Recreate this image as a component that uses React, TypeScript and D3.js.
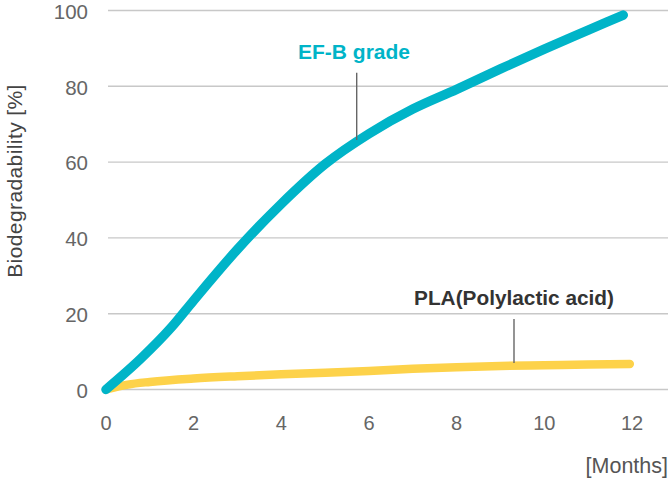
import * as d3 from 'd3';

// Months since start
const efbMonths = [0, 0.8, 1.5, 2, 3, 4, 5, 6, 7, 8, 9, 10, 11, 11.8];
const efbValues = [0, 8.2, 16.5, 23.5, 37, 49, 59.5, 67.5, 74, 79.2, 84.6, 89.8, 94.8, 98.8];

const plaMonths = [0, 0.5, 1, 2, 3, 4, 5, 6, 7, 8, 9, 10, 11, 11.95];
const plaValues = [0, 1.3, 2.0, 2.9, 3.5, 4.0, 4.4, 4.9, 5.5, 5.9, 6.2, 6.4, 6.6, 6.7];

const xTicks = [0, 2, 4, 6, 8, 10, 12];
const yTicks = [0, 20, 40, 60, 80, 100];

const FONT = '"Liberation Sans", Arial, sans-serif';
const TEAL = '#00b4c8';
const YELLOW = '#fdd24a';

export default function App() {
  const width = 672;
  const height = 480;

  const x = d3.scaleLinear().domain([0, 12]).range([106, 632]);
  const y = d3.scaleLinear().domain([0, 100]).range([389.5, 10.5]);

  const line = d3
    .line<[number, number]>()
    .x((d) => x(d[0]))
    .y((d) => y(d[1]))
    .curve(d3.curveMonotoneX);

  const efb = efbMonths.map((m, i) => [m, efbValues[i]] as [number, number]);
  const pla = plaMonths.map((m, i) => [m, plaValues[i]] as [number, number]);

  return (
    <svg
      width={width}
      height={height}
      style={{ position: 'absolute', left: 0, top: 0, background: '#fff' }}
      fontFamily={FONT}
    >
      {/* grid */}
      {yTicks.map((t) => (
        <g key={t}>
          <line x1={108} x2={668} y1={y(t)} y2={y(t)} stroke="#c8c8c8" strokeWidth={1.4} />
          <text x={88} y={y(t) + 1} dy="0.36em" textAnchor="end" fontSize={20.5} fill="#666">
            {t}
          </text>
        </g>
      ))}

      {xTicks.map((t) => (
        <text key={t} x={x(t)} y={423} dy="0.36em" textAnchor="middle" fontSize={20} fill="#666">
          {t}
        </text>
      ))}

      <text x={668} y={465} dy="0.36em" textAnchor="end" fontSize={21.5} fill="#555">
        [Months]
      </text>

      <text
        transform={`translate(14,${181}) rotate(-90)`}
        dy="0.36em"
        textAnchor="middle"
        fontSize={21}
        letterSpacing={0.4}
        fill="#444"
      >
        Biodegradability [%]
      </text>

      {/* series */}
      <path d={line(pla) ?? ''} fill="none" stroke={YELLOW} strokeWidth={8.5} strokeLinecap="round" />
      <path d={line(efb) ?? ''} fill="none" stroke={TEAL} strokeWidth={9.5} strokeLinecap="round" />

      {/* annotations */}
      <line x1={356.7} x2={356.7} y1={72.7} y2={140} stroke="#666" strokeWidth={1.4} />
      <text x={354} y={51.5} dy="0.36em" textAnchor="middle" fontSize={21} fontWeight="bold" fill={TEAL}>
        EF-B grade
      </text>

      <line x1={514} x2={514} y1={319} y2={363} stroke="#666" strokeWidth={1.4} />
      <text x={514} y={297.5} dy="0.36em" textAnchor="middle" fontSize={20.8} fontWeight="bold" fill="#333">
        PLA(Polylactic acid)
      </text>
    </svg>
  );
}
